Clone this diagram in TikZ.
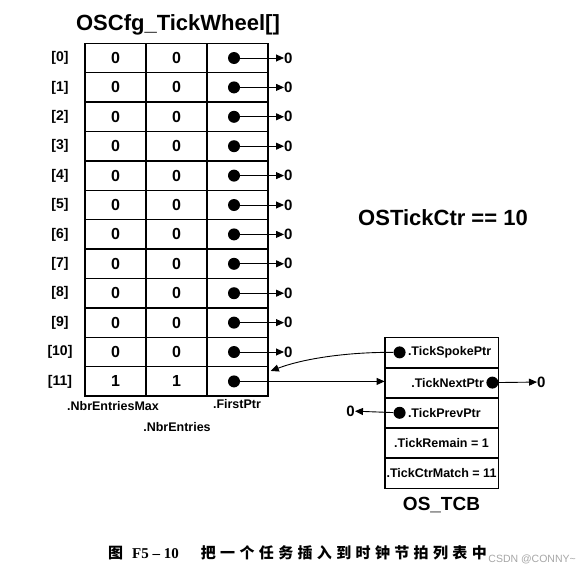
\documentclass[tikz,border=0pt]{standalone}
\usepackage{fontspec}
\setmainfont{Liberation Sans}
\newfontfamily\cjk[LetterSpace=29]{Noto Sans CJK SC}
\newfontfamily\serifb{Liberation Serif}
\usetikzlibrary{arrows.meta,positioning,calc}

\begin{document}
\begin{tikzpicture}[x=1pt,y=-1pt,
	cell/.style={draw,line width=1.5pt,minimum width=61pt,minimum height=29.4pt,inner sep=0pt,font=\fontsize{16}{16}\bfseries},
	champ/.style={draw,line width=0.8pt,minimum width=113pt,minimum height=29.4pt,inner sep=0pt,font=\fontsize{12.5}{13}\bfseries},
	pt/.style={circle,fill,inner sep=0pt,minimum size=12pt},
	fl/.style={-{Triangle[length=8pt,width=7pt]},line width=0.9pt},
	nul/.style={font=\fontsize{15}{15}\bfseries,inner sep=0pt},
	lab/.style={font=\fontsize{12.5}{13}\bfseries,inner sep=0pt}]

		\useasboundingbox (0,0) rectangle (580,576);

		% Tableau
		\node[font=\fontsize{22}{22}\bfseries] (titre) at (178,25) {OSCfg\_TickWheel[]};
		\foreach \i in {0,...,11}{
			\pgfmathtruncatemacro{\v}{\i==11}
			\node[cell] (max\i) at (115.5,58+29.4*\i) {\v};
			\node[cell] (nbr\i) at (176.5,58+29.4*\i) {\v};
			\node[cell] (ptr\i) at (237.5,58+29.4*\i) {};
			\node[pt] (d\i) at (234,58+29.4*\i) {};
			\node[font=\fontsize{14}{14}\bfseries] (idx\i) at (60,58+29.4*\i) {[\i]};
		}
		\foreach \i in {0,...,10}{
			\node[nul,anchor=west] (z\i) at (284,58+29.4*\i) {0};
			\draw[fl] (d\i) -- (z\i);
		}
		\node[lab] (emax) at (113,406) {.NbrEntriesMax};
		\node[lab] (efirst) at (237,404) {.FirstPtr};
		\node[lab] (enbr) at (177,427) {.NbrEntries};

		\node[font=\fontsize{22}{22}\bfseries] (ctr) at (443,218) {OSTickCtr == 10};

		% OS_TCB
		\node[champ] (t1) at (441.5,352.4) {};
		\node[champ,below=0pt of t1] (t2) {};
		\node[champ,below=0pt of t2] (t3) {};
		\node[champ,below=0pt of t3] (t4) {.TickRemain = 1};
		\node[champ,below=0pt of t4] (t5) {.TickCtrMatch = 11};
		\draw[line width=1.5pt] (t1.north west) rectangle (t5.south east);
		\node[font=\fontsize{19}{19}\bfseries,below=5pt of t5] (tcb) {OS\_TCB};

		\node[pt] (spoke) at ($(t1.west)+(15,0)$) {};
		\node[lab,right=2pt of spoke] (lspoke) {.TickSpokePtr};
		\node[pt] (next) at ($(t2.east)+(-6,0)$) {};
		\node[lab,left=2pt of next] (lnext) {.TickNextPtr};
		\node[pt] (prev) at ($(t3.west)+(15,0)$) {};
		\node[lab,right=2pt of prev] (lprev) {.TickPrevPtr};

		% Flèches
		\node[nul,anchor=west] (zn) at (537,382) {0};
		\draw[fl] (next) -- (zn);
		\node[nul,anchor=east] (zp) at (355,411) {0};
		\draw[fl] (prev) -- (zp);
		\draw[fl] (d11) -- (d11 -| t2.west);
		\coordinate (entree) at ($(ptr11.north east)+(2,5)$);
		\draw[fl] (spoke) .. controls (350,352) and (305,358) .. (entree);

		\node[anchor=west,inner sep=0pt] (legende) at (108,553) {{\cjk\bfseries\fontsize{15}{15}\selectfont 图}\hspace{9pt}{\serifb\bfseries\fontsize{15}{15}\selectfont F5 – 10}\hspace{22pt}{\cjk\bfseries\fontsize{15}{15}\selectfont 把一个任务插入到时钟节拍列表中}};
		\node[anchor=east,text=gray!70,font=\fontsize{10.5}{11}\selectfont,inner sep=0pt] (csdn) at (576,559) {CSDN @CONNY\textasciitilde};
\end{tikzpicture}
\end{document}
